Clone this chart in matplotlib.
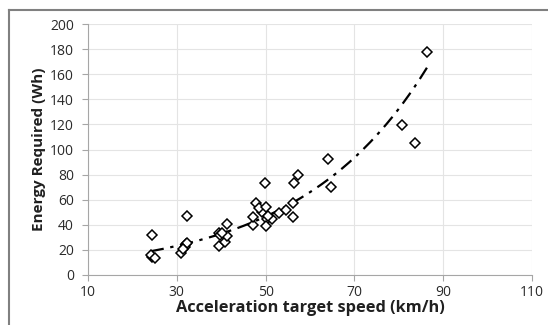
import numpy as np
import matplotlib
matplotlib.use("Agg")
import matplotlib.pyplot as plt
from matplotlib.lines import Line2D

# acceleration target speed (km/h) vs energy required (Wh)
speed = [24.5, 24.5, 24.1, 25.0, 32.2, 32.1, 31.8, 32.3, 30.9, 31.4,
         39.6, 39.8, 41.2, 39.6, 40.9, 41.2, 40.2,
         47.1, 47.2, 47.8, 49.1, 48.5, 49.9, 50.1, 50.4, 51.4, 50.1, 50.6,
         53.1, 54.7, 56.1, 56.2, 56.5, 57.4, 64.0, 64.7, 80.8, 83.6, 86.4]
energy = [32.1, 14.6, 16.0, 13.5, 47.3, 24.7, 22.5, 25.5, 17.8, 20.5,
          33.2, 31.5, 40.6, 23.1, 26.5, 31.0, 33.5,
          39.8, 46.5, 57.6, 50.4, 53.0, 73.1, 54.4, 44.9, 44.4, 39.0, 47.0,
          49.1, 51.8, 57.6, 46.0, 73.6, 79.7, 92.2, 70.4, 119.5, 105.4, 177.7]

xticks = [10, 30, 50, 70, 90, 110]
yticks = list(range(0, 201, 20))

plt.rcParams['font.family'] = ['Open Sans', 'DejaVu Sans']

fig = plt.figure(figsize=(5.48, 3.25), dpi=100)
ax = fig.add_axes([88/548, 50/325, 444/548, 251/325])

# exponential trendline (log-linear least squares, like excel)
b, ln_a = np.polyfit(speed, np.log(energy), 1)
xs = np.linspace(min(speed), max(speed), 200)
ax.plot(xs, np.exp(ln_a) * np.exp(b * xs), color='black', lw=1.6,
        linestyle=(0, (6, 3, 1.5, 3)), zorder=2)

ax.plot(speed, energy, linestyle='none', marker='D', markersize=4.6,
        markerfacecolor='white', markeredgecolor='black', markeredgewidth=1.1,
        zorder=3)

ax.set_xlim(10, 110)
ax.set_ylim(0, 200)
ax.set_xticks(xticks)
ax.set_yticks(yticks)
ax.grid(True, color='#e4e4e4', lw=0.8)
ax.set_axisbelow(True)
for s in ['top', 'right']:
    ax.spines[s].set_visible(False)
for s in ['left', 'bottom']:
    ax.spines[s].set_color('#a6a6a6')
ax.tick_params(colors='#a6a6a6', labelcolor='#2a2a2a', labelsize=10, length=4)
ax.tick_params(axis='y', pad=6)
ax.tick_params(axis='x', pad=3)

ax.set_xlabel('Acceleration target speed (km/h)', fontsize=11.8, fontweight='bold',
              color='#202020', labelpad=0)
ax.set_ylabel('Energy Required (Wh)', fontsize=11, fontweight='bold',
              color='#202020', labelpad=3)

# outer chart border
fig.add_artist(Line2D([9/548, 1], [1 - 10/325, 1 - 10/325], color='#808080', lw=1.5))
fig.add_artist(Line2D([9/548, 9/548], [0, 1 - 10/325], color='#808080', lw=1.5))

fig.savefig('out.png', dpi=100)
